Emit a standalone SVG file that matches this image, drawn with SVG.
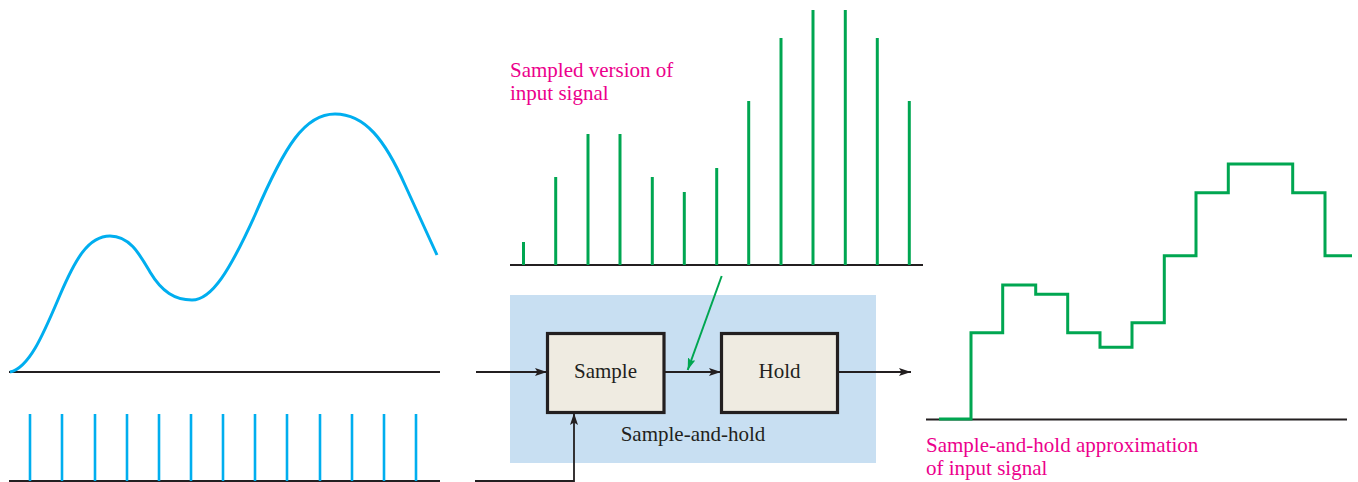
<svg xmlns="http://www.w3.org/2000/svg" width="1358" height="482" viewBox="0 0 1358 482">
<style>
.axis{stroke:#231f20;stroke-width:2;fill:none}
.pulse{stroke:#00aeef;stroke-width:2.6;fill:none}
.samp{stroke:#00a651;stroke-width:3;fill:none}
.conn{stroke:#231f20;stroke-width:1.8;fill:none}
.box{fill:#efebe1;stroke:#231f20;stroke-width:3.2}
.lbl{font-family:"Liberation Serif","Times New Roman",serif;font-size:21px;fill:#231f20}
.cap{font-family:"Liberation Serif","Times New Roman",serif;font-size:21px;fill:#ec008c}
</style>
<defs>
<marker id="ah" markerUnits="userSpaceOnUse" markerWidth="14" markerHeight="10" refX="12" refY="4" orient="auto">
<path d="M0,0 L12,4 L0,8 L2.5,4 Z" fill="#231f20"/>
</marker>
<marker id="ahg" markerUnits="userSpaceOnUse" markerWidth="14" markerHeight="10" refX="12" refY="4" orient="auto">
<path d="M0,0 L12,4 L0,8 L2.5,4 Z" fill="#00a651"/>
</marker>
</defs>

<g id="input-signal">
<line class="axis" x1="9" y1="372" x2="440" y2="372"/>
<path d="M10,372 C30,368 45,330 60,295 C75,260 88,236 110,236 C130,236 140,255 150,272 C162,292 175,300 192,300 C212,300 230,270 255,215 C285,145 305,114 335,114 C365,114 385,140 405,185 C420,218 430,240 437,255" fill="none" stroke="#00aeef" stroke-width="3"/>
</g>

<g id="sampling-pulses">
<line class="axis" x1="9" y1="481" x2="440" y2="481"/>
<line class="pulse" x1="30" y1="414" x2="30" y2="481"/>
<line class="pulse" x1="62" y1="414" x2="62" y2="481"/>
<line class="pulse" x1="95" y1="414" x2="95" y2="481"/>
<line class="pulse" x1="127" y1="414" x2="127" y2="481"/>
<line class="pulse" x1="159" y1="414" x2="159" y2="481"/>
<line class="pulse" x1="191" y1="414" x2="191" y2="481"/>
<line class="pulse" x1="223" y1="414" x2="223" y2="481"/>
<line class="pulse" x1="255" y1="414" x2="255" y2="481"/>
<line class="pulse" x1="287" y1="414" x2="287" y2="481"/>
<line class="pulse" x1="320" y1="414" x2="320" y2="481"/>
<line class="pulse" x1="352" y1="414" x2="352" y2="481"/>
<line class="pulse" x1="384" y1="414" x2="384" y2="481"/>
<line class="pulse" x1="416" y1="414" x2="416" y2="481" stroke-width="4"/>
</g>

<g id="sampled-signal">
<line class="axis" x1="510" y1="265" x2="923" y2="265"/>
<line class="samp" x1="523.5" y1="242" x2="523.5" y2="265"/>
<line class="samp" x1="555.7" y1="177" x2="555.7" y2="265"/>
<line class="samp" x1="588" y1="134" x2="588" y2="265"/>
<line class="samp" x1="620" y1="134" x2="620" y2="265"/>
<line class="samp" x1="652.3" y1="177" x2="652.3" y2="265"/>
<line class="samp" x1="684.3" y1="192" x2="684.3" y2="265"/>
<line class="samp" x1="716.7" y1="168" x2="716.7" y2="265"/>
<line class="samp" x1="748.7" y1="101" x2="748.7" y2="265"/>
<line class="samp" x1="781" y1="38" x2="781" y2="265"/>
<line class="samp" x1="813" y1="10" x2="813" y2="265"/>
<line class="samp" x1="845.3" y1="10" x2="845.3" y2="265"/>
<line class="samp" x1="877.3" y1="38" x2="877.3" y2="265"/>
<line class="samp" x1="909.3" y1="101" x2="909.3" y2="265"/>
<text class="cap" x="510" y="77">Sampled version of</text>
<text class="cap" x="510" y="100">input signal</text>
</g>

<g id="sample-and-hold">
<rect x="510" y="295" width="366" height="168" fill="#c8dff2"/>
<text class="lbl" x="693" y="441" text-anchor="middle">Sample-and-hold</text>
</g>

<g id="sample">
<rect class="box" x="547.5" y="333.5" width="116.5" height="79"/>
<text class="lbl" x="605.5" y="378" text-anchor="middle">Sample</text>
</g>

<g id="hold">
<rect class="box" x="721.5" y="333.5" width="116" height="79"/>
<text class="lbl" x="779.5" y="378" text-anchor="middle">Hold</text>
</g>

<g id="held-signal">
<line class="axis" x1="926" y1="419.5" x2="1347" y2="419.5"/>
<path class="samp" d="M939,419 H971 V332.7 H1002.7 V285 H1035.7 V294.3 H1067.7 V332.7 H1100 V347.3 H1132 V322.7 H1164.3 V255.7 H1196 V192.7 H1228.3 V164 H1292.7 V192.7 H1325 V255.7 H1352"/>
<text class="cap" x="926" y="452">Sample-and-hold approximation</text>
<text class="cap" x="926" y="475">of input signal</text>
</g>

<g id="connectors">
<line class="conn" x1="476" y1="372" x2="547" y2="372" marker-end="url(#ah)"/>
<line class="conn" x1="664" y1="372" x2="721" y2="372" marker-end="url(#ah)"/>
<line class="conn" x1="838" y1="372" x2="911" y2="372" marker-end="url(#ah)"/>
<polyline class="conn" points="475,481 574,481 574,413" marker-end="url(#ah)"/>
<line x1="721.7" y1="276" x2="687.7" y2="370" stroke="#00a651" stroke-width="2" marker-end="url(#ahg)"/>
</g>
</svg>
